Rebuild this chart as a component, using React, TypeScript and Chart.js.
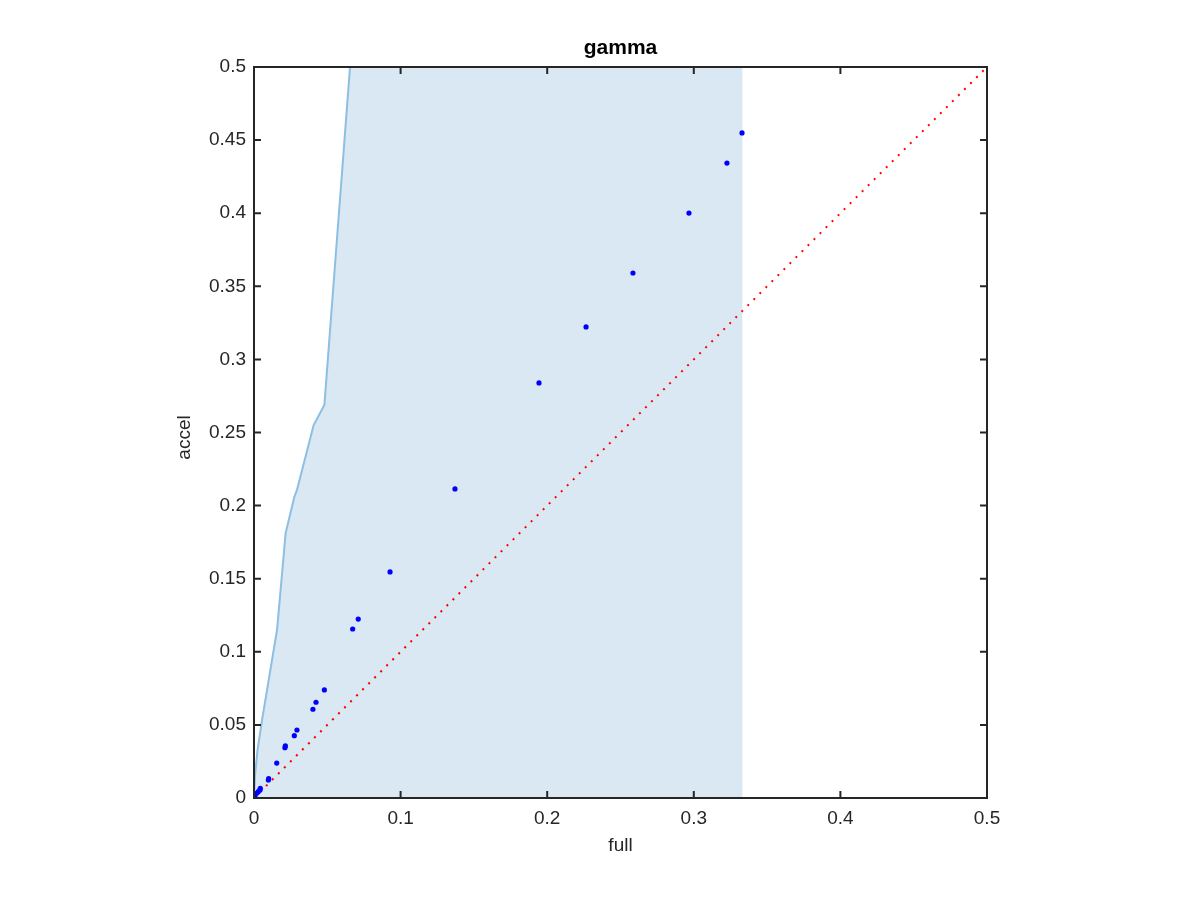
import React, { useEffect, useRef } from "react";
import { Chart, registerables } from "chart.js";

Chart.register(...registerables);

// Boundary curve (x = full, y = accel)
const curveX = [0, 0.0007, 0.0024, 0.0055, 0.0089, 0.0123, 0.0157, 0.0216, 0.0275, 0.0293, 0.0407, 0.048, 0.0655];
const curveY = [0, 0.0157, 0.0328, 0.0534, 0.0739, 0.0944, 0.1149, 0.1813, 0.2059, 0.2107, 0.2551, 0.2688, 0.5];
const regionRightX = 0.3333;
const regionTopY = 0.5;

// Scatter points
const pointsX = [0.3329, 0.3226, 0.2967, 0.2585, 0.2265, 0.1944, 0.1371, 0.0928, 0.0711, 0.0673, 0.048, 0.0423, 0.0402, 0.0293, 0.0275, 0.0214, 0.0211, 0.0155, 0.01, 0.0098, 0.0043, 0.0041, 0.0029, 0.0018, 0.0007, 0];
const pointsY = [0.4549, 0.4343, 0.4001, 0.3591, 0.3222, 0.2839, 0.2114, 0.1546, 0.1224, 0.1156, 0.0739, 0.0655, 0.0607, 0.0465, 0.0426, 0.0356, 0.0344, 0.0239, 0.0132, 0.0123, 0.0066, 0.0055, 0.0043, 0.0032, 0.0009, 0];

// Diagonal reference
const diagX = [0, 0.5];
const diagY = [0, 0.5];

const xTicks = [0, 0.1, 0.2, 0.3, 0.4, 0.5];
const yTicks = [0, 0.05, 0.1, 0.15, 0.2, 0.25, 0.3, 0.35, 0.4, 0.45, 0.5];

const titleText = "gamma";
const xLabel = "full";
const yLabel = "accel";

const FONT = "'Liberation Sans', Helvetica, Arial, sans-serif";

const fmt = (v: number) => String(Number(v.toFixed(3)));

export default function App() {
  const ref = useRef<HTMLCanvasElement | null>(null);

  useEffect(() => {
    document.body.style.margin = "0";
    const canvas = ref.current!;
    const curve = curveX.map((x, i) => ({ x, y: curveY[i] }));
    const region = [...curve, { x: regionRightX, y: regionTopY }];
    const pts = pointsX.map((x, i) => ({ x, y: pointsY[i] }));
    const diag = diagX.map((x, i) => ({ x, y: diagY[i] }));

    const boxPlugin = {
      id: "boxPlugin",
      afterDraw(chart: any) {
        const { ctx, chartArea: a, scales } = chart;
        ctx.save();
        ctx.strokeStyle = "#262626";
        ctx.lineWidth = 2;
        ctx.strokeRect(a.left, a.top, a.right - a.left, a.bottom - a.top);
        const tl = 7;
        ctx.beginPath();
        xTicks.forEach((v) => {
          const px = scales.x.getPixelForValue(v);
          ctx.moveTo(px, a.bottom);
          ctx.lineTo(px, a.bottom - tl);
          ctx.moveTo(px, a.top);
          ctx.lineTo(px, a.top + tl);
        });
        yTicks.forEach((v) => {
          const py = scales.y.getPixelForValue(v);
          ctx.moveTo(a.left, py);
          ctx.lineTo(a.left + tl, py);
          ctx.moveTo(a.right, py);
          ctx.lineTo(a.right - tl, py);
        });
        ctx.stroke();

        ctx.fillStyle = "#000000";
        ctx.textAlign = "center";
        ctx.textBaseline = "middle";
        ctx.font = `bold 21px ${FONT}`;
        ctx.fillText(titleText, (a.left + a.right) / 2, a.top - 19);
        ctx.fillStyle = "#262626";
        ctx.font = `19px ${FONT}`;
        ctx.fillText(xLabel, (a.left + a.right) / 2, a.bottom + 48);
        ctx.save();
        ctx.translate(a.left - 69, (a.top + a.bottom) / 2 + 5);
        ctx.rotate(-Math.PI / 2);
        ctx.fillText(yLabel, 0, 0);
        ctx.restore();
        ctx.restore();
      },
    };

    const chart = new Chart(canvas, {
      type: "scatter",
      data: {
        datasets: [
          {
            data: pts,
            order: 1,
            showLine: false,
            pointRadius: 2.6,
            pointBackgroundColor: "#0000ff",
            pointBorderWidth: 0,
            backgroundColor: "#0000ff",
          },
          {
            data: diag,
            order: 2,
            showLine: true,
            borderColor: "#ff0000",
            borderWidth: 2,
            borderDash: [2, 6.5],
            pointRadius: 0,
            fill: false,
          },
          {
            data: curve,
            order: 3,
            showLine: true,
            borderColor: "#8dbfe2",
            borderWidth: 2,
            pointRadius: 0,
            fill: false,
          },
          {
            data: region,
            order: 4,
            showLine: true,
            borderWidth: 0,
            borderColor: "rgba(0,0,0,0)",
            backgroundColor: "#d9e8f3",
            pointRadius: 0,
            fill: "origin",
          },
        ],
      } as any,
      options: {
        responsive: false,
        animation: false,
        devicePixelRatio: 1,
        layout: { padding: { top: 67, right: 213, left: 0, bottom: 0 } },
        plugins: {
          legend: { display: false },
          tooltip: { enabled: false },
          title: { display: false },
        },
        scales: {
          x: {
            type: "linear",
            min: 0,
            max: 0.5,
            afterFit: (s: any) => {
              s.height = 102;
            },
            afterBuildTicks: (s: any) => {
              s.ticks = xTicks.map((v) => ({ value: v }));
            },
            grid: { display: false, drawTicks: false },
            border: { display: false },
            ticks: {
              padding: 9,
              color: "#262626",
              font: { family: FONT, size: 19 },
              callback: (v: any) => fmt(Number(v)),
              maxRotation: 0,
              autoSkip: false,
            },
          },
          y: {
            type: "linear",
            min: 0,
            max: 0.5,
            afterFit: (s: any) => {
              s.width = 254;
            },
            afterBuildTicks: (s: any) => {
              s.ticks = yTicks.map((v) => ({ value: v }));
            },
            grid: { display: false, drawTicks: false },
            border: { display: false },
            ticks: {
              padding: 8,
              color: "#262626",
              font: { family: FONT, size: 19 },
              callback: (v: any) => fmt(Number(v)),
              autoSkip: false,
            },
          },
        },
      } as any,
      plugins: [boxPlugin],
    });
    return () => chart.destroy();
  }, []);

  return (
    <div style={{ width: 1200, height: 900 }}>
      <canvas ref={ref} width={1200} height={900} style={{ display: "block" }} />
    </div>
  );
}
